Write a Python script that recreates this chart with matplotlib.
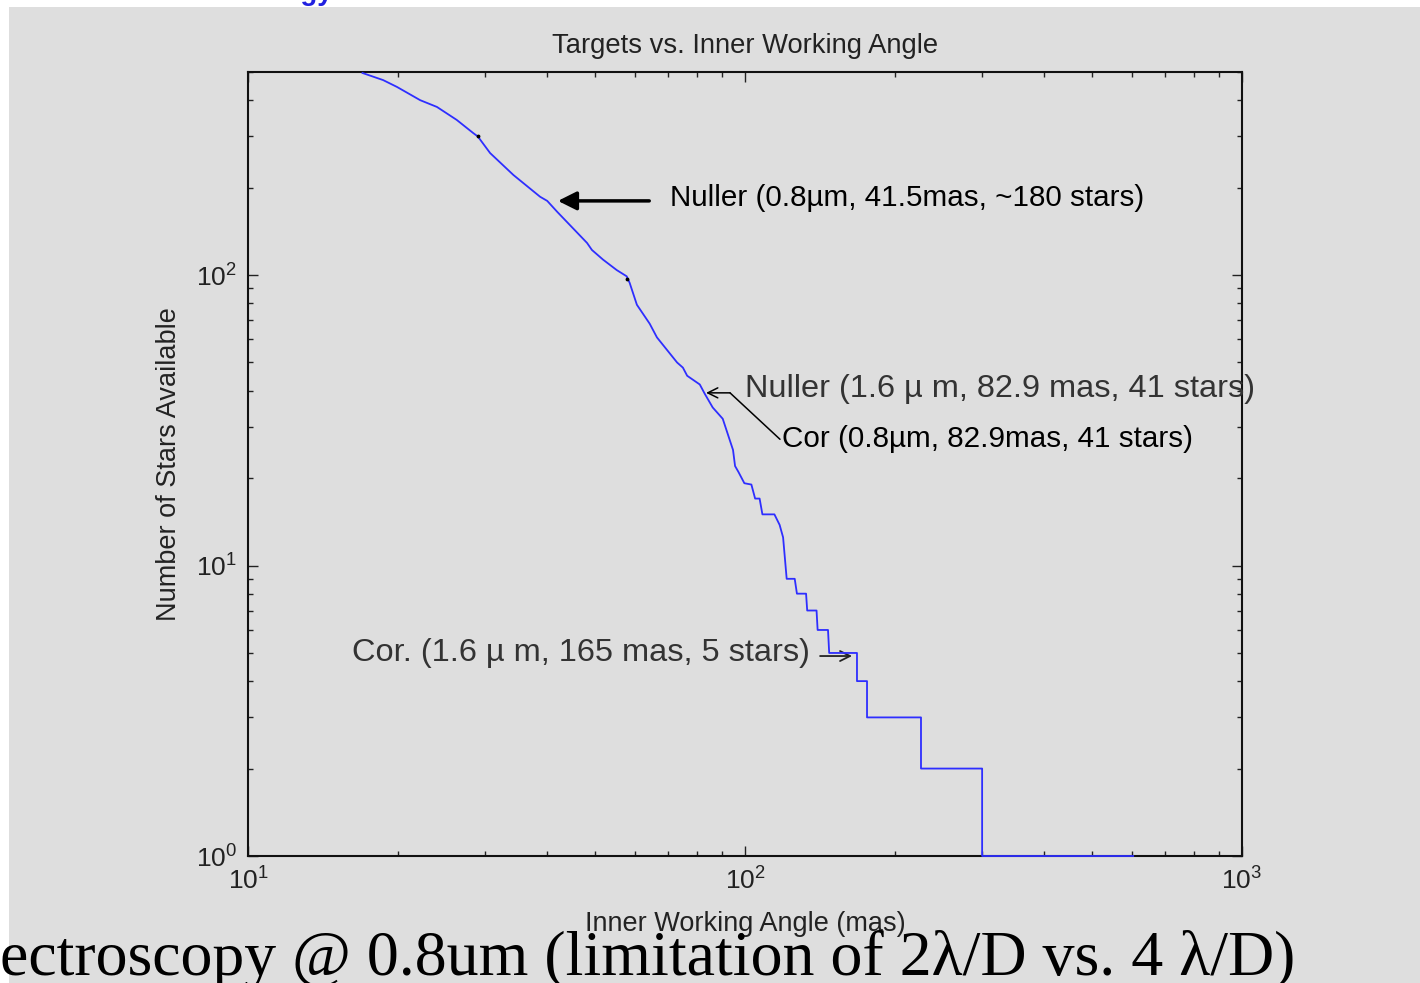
import matplotlib
matplotlib.use("Agg")
import matplotlib.pyplot as plt
from matplotlib.patches import Rectangle

plt.rcParams['font.family'] = ['Liberation Sans', 'DejaVu Sans']
plt.rcParams['mathtext.fontset'] = 'custom'
plt.rcParams['mathtext.rm'] = 'Liberation Sans'
plt.rcParams['mathtext.it'] = 'Liberation Sans'

# inner working angle (mas) vs number of stars available
iwa = [17.0, 18.7, 19.95, 22.2, 24.0, 26.3, 28.4, 29.0, 30.7, 34.2, 38.7, 40.0, 41.9,
       48.1, 49.2, 51.8, 55.2, 57.8, 58.6, 60.6, 64.3, 66.5, 73.0, 75.0, 76.5, 81.1,
       83.0, 86.1, 90.2, 93.2, 94.6, 95.5, 97.0, 99.7, 103.0, 104.8, 107.0, 108.4,
       114.6, 117.4, 119.3, 121.3, 125.9, 127.2, 132.7, 133.4, 139.3, 140.0, 146.9,
       147.7, 168.0, 168.0, 176.0, 176.0, 226.0, 226.0, 300.0, 300.0, 604.0]
stars = [496, 469, 444, 400, 379, 342, 308, 300, 263, 221, 186, 180, 165,
         129, 122, 113, 104, 99, 94, 79, 68, 61, 50, 48, 45, 42,
         39, 35, 32, 27, 25, 22, 21, 19.2, 19, 17, 17, 15,
         15, 13.8, 12.5, 9, 9, 8, 8, 7, 7, 6, 6,
         5, 5, 4, 4, 3, 3, 2, 2, 1, 1]
dot_iwa = [29.0, 58.0]
dot_stars = [300, 97]

xticks = [10, 100, 1000]
xticklabels = ['$10^{1}$', '$10^{2}$', '$10^{3}$']
yticks = [1, 10, 100]
yticklabels = ['$10^{0}$', '$10^{1}$', '$10^{2}$']

bg = '#dedede'
fig = plt.figure(figsize=(14.2, 9.83), dpi=100, facecolor='white')
fig.patches.append(Rectangle((9 / 1420, 0), 1 - 9 / 1420, 976 / 983,
                             transform=fig.transFigure, facecolor=bg,
                             edgecolor='none', zorder=-10))

ax = fig.add_axes([248 / 1420, 127 / 983, 994 / 1420, 784 / 983])
ax.set_facecolor(bg)
ax.plot(iwa, stars, color='#2e2eff', lw=1.3, clip_on=False, zorder=5)
ax.plot(dot_iwa, dot_stars, 'k.', ms=3.5, zorder=6)
ax.set_xscale('log')
ax.set_yscale('log')
ax.set_xlim(10, 1000)
ax.set_ylim(1, 500)
ax.set_xticks(xticks)
ax.set_xticklabels(xticklabels)
ax.set_yticks(yticks)
ax.set_yticklabels(yticklabels)
ax.tick_params(which='both', direction='in', top=True, right=True,
               labelsize=19, colors='#222222', pad=8)
ax.tick_params(which='major', length=7, width=1)
ax.tick_params(which='minor', length=3.5, width=1)
for s in ax.spines.values():
    s.set_linewidth(1.5)
    s.set_color('#111111')

ax.set_title('Targets vs. Inner Working Angle', fontsize=19.7, color='#222222', pad=14)
ax.set_xlabel('Inner Working Angle (mas)', fontsize=19.5, color='#222222')
ax.xaxis.set_label_coords(0.5, -0.07)
ax.set_ylabel('Number of Stars Available', fontsize=19.5, color='#222222')
ax.yaxis.set_label_coords(-0.066, 0.5)

# annotations
ax.annotate('', xy=(41.5, 180), xytext=(65.0, 180),
            arrowprops=dict(arrowstyle='-|>', lw=2.5, color='black', mutation_scale=28))
ax.text(70.6, 184, 'Nuller (0.8\u00b5m, 41.5mas, ~180 stars)', fontsize=21.3,
        ha='left', va='center', color='black')

ax.text(100, 40.5, 'Nuller (1.6 \u00b5 m, 82.9 mas, 41 stars)', fontsize=23.4,
        ha='left', va='center', color='#333333', clip_on=False)
ax.annotate('', xy=(93.3, 39.3), xytext=(117.6, 27.2),
            arrowprops=dict(arrowstyle='-', lw=1.1, color='black', shrinkA=0, shrinkB=0))
ax.annotate('', xy=(83.5, 39.3), xytext=(93.3, 39.3),
            arrowprops=dict(arrowstyle='->', lw=1.1, color='black', shrinkA=0, shrinkB=0,
                            mutation_scale=18))
ax.text(118.7, 27.3, 'Cor (0.8\u00b5m, 82.9mas, 41 stars)', fontsize=21.3,
        ha='left', va='center', color='black')

ax.text(135.2, 5.0, 'Cor. (1.6 \u00b5 m, 165 mas, 5 stars)', fontsize=23.4,
        ha='right', va='center', color='#333333')
ax.annotate('', xy=(164.2, 4.88), xytext=(141.6, 4.88),
            arrowprops=dict(arrowstyle='->', lw=1.3, color='#222222', shrinkA=0, shrinkB=0,
                            mutation_scale=18))

# slide text clipped at the edges
fig.text(0.0, 8 / 983, 'ectroscopy @ 0.8um (limitation of 2\u03bb/D vs. 4 \u03bb/D)',
         family=['Liberation Serif', 'DejaVu Serif'], fontsize=46, ha='left',
         va='baseline', color='black')
fig.text(333 / 1420, 1.0, 'Technology', fontsize=20, fontweight='bold',
         color='#2020e0', ha='right', va='baseline')

fig.savefig('out.png', dpi=100, facecolor='white')
